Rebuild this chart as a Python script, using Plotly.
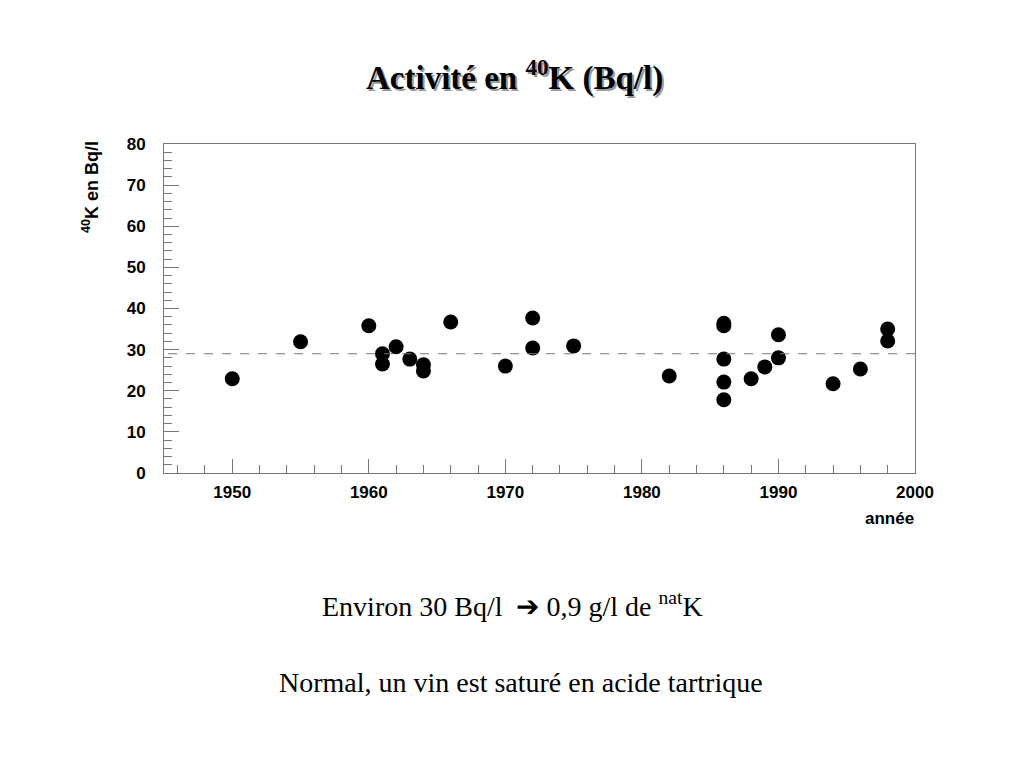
import plotly.graph_objects as go

# Data
years = [1950, 1955, 1960, 1961, 1961, 1962, 1963, 1964, 1964, 1966, 1970, 1972, 1972, 1975,
         1982, 1986, 1986, 1986, 1986, 1986, 1988, 1989, 1990, 1990, 1994, 1996, 1998, 1998]
activity = [22.9, 31.9, 35.8, 29.0, 26.5, 30.7, 27.7, 26.3, 24.8, 36.7, 26.0, 37.7, 30.4, 30.9,
            23.6, 36.4, 35.8, 27.7, 22.1, 17.8, 22.9, 25.8, 33.6, 28.0, 21.7, 25.3, 35.0, 32.1]
mean_level = 29.0

x_ticks = [1950, 1960, 1970, 1980, 1990, 2000]
y_ticks = [0, 10, 20, 30, 40, 50, 60, 70, 80]

OFF = 8  # page offset of the figure in the browser
W, H = 1024, 768
L, R, T, B = 164 - OFF, 109 + OFF, 144 - OFF, 295 + OFF
pw, ph = W - L - R, H - T - B


def px(x):
    return (x - OFF - L) / pw


def py(y):
    return (H - B - (y - OFF)) / ph


fig = go.Figure()
fig.add_trace(go.Scatter(
    x=years, y=activity, mode="markers",
    marker=dict(color="black", size=15, symbol="circle"),
    showlegend=False, hoverinfo="x+y",
))

fig.add_shape(type="line", xref="x", yref="y",
              x0=1945.3, x1=2000, y0=mean_level, y1=mean_level,
              line=dict(color="#777777", width=1, dash="dash"))

tick_font = dict(family="Liberation Sans", size=17, color="black", weight="bold")
fig.update_xaxes(
    range=[1945, 2000], tickvals=x_ticks, ticktext=[str(v) for v in x_ticks],
    ticks="inside", ticklen=14, tickwidth=1, tickcolor="#777777",
    minor=dict(ticks="inside", dtick=2, tick0=1946, ticklen=8, tickcolor="#777777", tickwidth=1),
    showline=True, linecolor="#777777", linewidth=1, mirror=True,
    showgrid=False, zeroline=False, ticklabelstandoff=4,
    tickfont=tick_font,
)
fig.update_yaxes(
    range=[0, 80], tickvals=y_ticks, ticktext=[str(v) for v in y_ticks],
    ticks="inside", ticklen=15, tickwidth=1, tickcolor="#777777",
    minor=dict(ticks="inside", dtick=2, ticklen=8, tickcolor="#777777", tickwidth=1),
    showline=True, linecolor="#777777", linewidth=1, mirror=True,
    showgrid=False, zeroline=False, ticklabelstandoff=14,
    tickfont=tick_font,
)

title_text = "Activité en <sup>40</sup>K (Bq/l)"
annotations = [
    dict(text=title_text, x=px(514), y=py(75), xshift=2, yshift=-2,
         font=dict(family="Liberation Serif", size=33, color="#999999", weight="bold")),
    dict(text=title_text, x=px(514), y=py(75),
         font=dict(family="Liberation Serif", size=33, color="black", weight="bold")),
    dict(text="<sup>40</sup>K en Bq/l", x=px(90), y=py(187), textangle=-90,
         font=dict(family="Liberation Sans", size=18, color="black", weight="bold")),
    dict(text="année", x=px(916), y=py(518), xanchor="right",
         font=dict(family="Liberation Sans", size=17, color="black", weight="bold")),
    dict(text="Environ 30 Bq/l  ➔ 0,9 g/l de <sup>nat</sup>K", x=px(512), y=py(604),
         font=dict(family="Liberation Serif", size=28, color="black")),
    dict(text="Normal, un vin est saturé en acide tartrique", x=px(521), y=py(682),
         font=dict(family="Liberation Serif", size=28, color="black")),
]
for a in annotations:
    a.setdefault("xanchor", "center")
    a.setdefault("yanchor", "middle")
    a.update(xref="paper", yref="paper", showarrow=False)

fig.update_layout(
    width=W, height=H, autosize=False,
    margin=dict(l=L, r=R, t=T, b=B),
    paper_bgcolor="white", plot_bgcolor="white",
    annotations=annotations,
)

fig.write_html("out.html")
